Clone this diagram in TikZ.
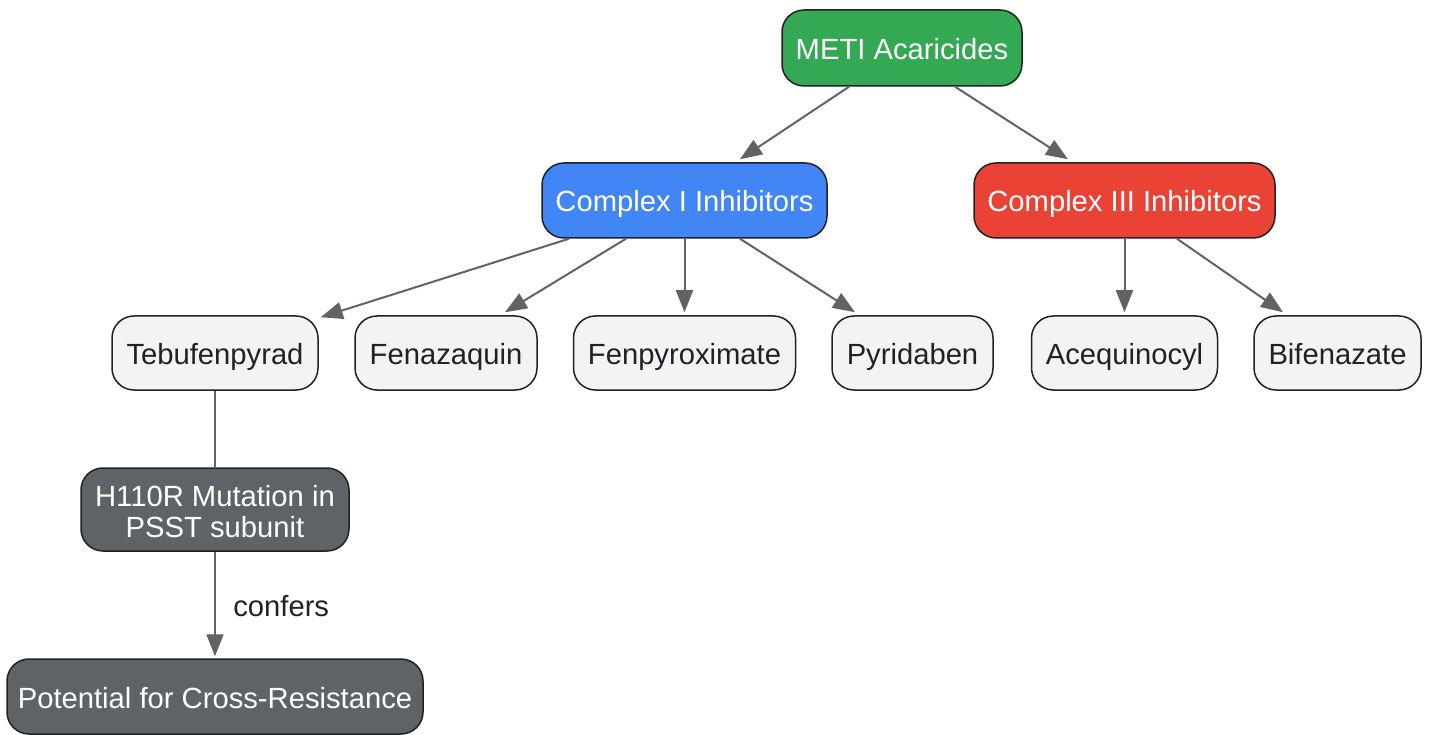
\documentclass[tikz,border=0pt]{standalone}
\usepackage{fontspec}
\setmainfont{Liberation Sans}
\usetikzlibrary{arrows.meta}
\definecolor{cgreen}{HTML}{34A853}
\definecolor{cblue}{HTML}{4285F4}
\definecolor{cred}{HTML}{EA4335}
\definecolor{clight}{HTML}{F1F3F4}
\definecolor{cdark}{HTML}{5F6368}
\definecolor{cborder}{HTML}{202124}
\definecolor{cedge}{HTML}{5F6368}
\tikzset{
  box/.style={draw=cborder, line width=1.5pt, rounded corners=22pt, inner sep=0pt,
    align=center, font=\fontsize{29.2}{31}\selectfont},
  one/.style={text height=23pt, text depth=0pt},
  light/.style={box, one, fill=clight, text=cborder},
  colbox/.style={box, text=white},
  conn/.style={draw=cedge, line width=2pt, -{Triangle[length=22pt,width=17pt]}},
  plain/.style={draw=cedge, line width=2pt},
}
\begin{document}
\begin{tikzpicture}[x=1pt,y=-1pt]
\useasboundingbox (0,0) rectangle (1430,735);
\node[colbox, one, fill=cgreen, minimum width=240pt, minimum height=76pt] (meti) at (902,48) {METI Acaricides};
\node[colbox, one, fill=cblue, minimum width=285pt, minimum height=75pt] (ci) at (684.5,200.5) {Complex I Inhibitors};
\node[colbox, one, fill=cred, minimum width=301pt, minimum height=75pt] (ciii) at (1124.5,200.5) {Complex III Inhibitors};
\node[light, minimum width=206pt, minimum height=74pt] (teb) at (215,353) {Tebufenpyrad};
\node[light, minimum width=182pt, minimum height=74pt] (fen) at (446,353) {Fenazaquin};
\node[light, minimum width=222pt, minimum height=74pt] (fpx) at (684.5,353) {Fenpyroximate};
\node[light, minimum width=161pt, minimum height=74pt] (pyr) at (912.5,353) {Pyridaben};
\node[light, minimum width=186pt, minimum height=74pt] (ace) at (1124.5,353) {Acequinocyl};
\node[light, minimum width=167pt, minimum height=74pt] (bif) at (1337.5,353) {Bifenazate};
\node[colbox, fill=cdark, minimum width=268pt, minimum height=83pt] (h110) at (215,509.5) {};
\node[text=white, align=center, font=\fontsize{29.2}{31}\selectfont, inner sep=0pt] (h110t) at (215,511.5) {H110R Mutation in\\PSST subunit};
\node[colbox, one, fill=cdark, minimum width=416pt, minimum height=75pt] (pot) at (215,696.5) {Potential for Cross-Resistance};

\draw[conn] ([xshift=-53pt]meti.south) -- ([xshift=55.5pt,yshift=3pt]ci.north);
\draw[conn] ([xshift=53pt]meti.south) -- ([xshift=-56.5pt,yshift=3pt]ciii.north);
\draw[conn] ([xshift=-115.5pt]ci.south) -- ([xshift=2pt,yshift=-2pt]teb.north east);
\draw[conn] ([xshift=-58.5pt]ci.south) -- ([xshift=59pt,yshift=3pt]fen.north);
\draw[conn] (ci.south) -- ([yshift=3pt]fpx.north);
\draw[conn] ([xshift=55.5pt]ci.south) -- ([xshift=-57.5pt,yshift=3pt]pyr.north);
\draw[conn] (ciii.south) -- ([yshift=3pt]ace.north);
\draw[conn] ([xshift=52.5pt]ciii.south) -- ([xshift=-54.5pt,yshift=3pt]bif.north);
\draw[plain] (teb.south) -- (h110.north);
\draw[conn] (h110.south) -- node[right=14pt, font=\fontsize{29.2}{31}\selectfont, text=cborder, yshift=-2pt] (lab) {confers} ([yshift=2pt]pot.north);
\end{tikzpicture}
\end{document}
